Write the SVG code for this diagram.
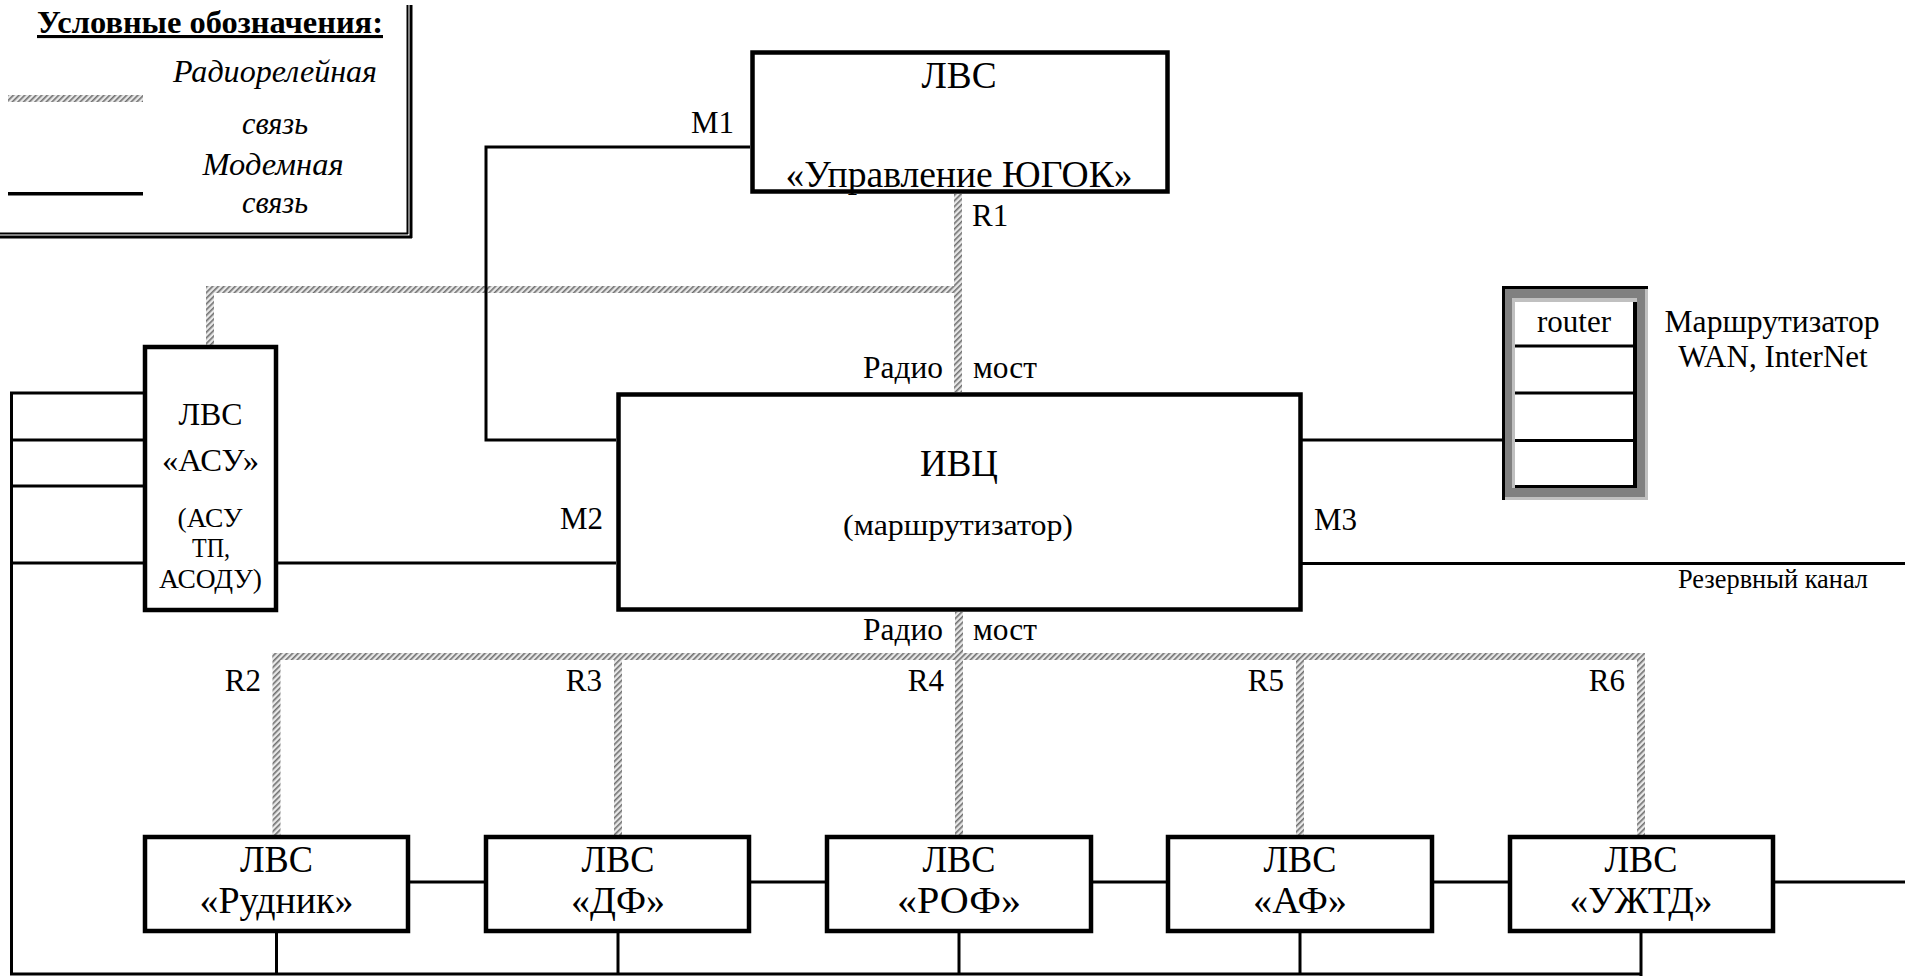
<svg xmlns="http://www.w3.org/2000/svg" width="1905" height="976" viewBox="0 0 1905 976">
<defs>
<pattern id="hatch" patternUnits="userSpaceOnUse" width="4" height="4" patternTransform="rotate(45)">
<rect width="4" height="4" fill="#e8e8e8"/>
<rect width="1.6" height="4" fill="#707070"/>
</pattern>
<style>
.t{font-family:"Liberation Serif","Times New Roman",serif;fill:#000}
.box{fill:#fff;stroke:#000;stroke-width:4.5}
.ln{stroke:#000;stroke-width:3;fill:none}
.rr{fill:url(#hatch)}
.c{text-anchor:middle}
.e{text-anchor:end}
.b37{font-size:37px}
.l31{font-size:31px}
</style>
</defs>
<rect width="1905" height="976" fill="#fff"/>

<g id="legend">
<text class="t c" x="210" y="33" font-size="31" font-weight="bold" text-decoration="underline" textLength="346" lengthAdjust="spacingAndGlyphs">Условные обозначения:</text>
<text class="t c" x="275" y="82" font-size="31" font-style="italic" textLength="204" lengthAdjust="spacingAndGlyphs">Радиорелейная</text>
<rect class="rr" x="8" y="95" width="135" height="7"/>
<text class="t c" x="275" y="134" font-size="31" font-style="italic" textLength="66" lengthAdjust="spacingAndGlyphs">связь</text>
<text class="t c" x="273" y="175" font-size="31" font-style="italic" textLength="141" lengthAdjust="spacingAndGlyphs">Модемная</text>
<rect x="8" y="192" width="135" height="3.5" fill="#000"/>
<text class="t c" x="275" y="213" font-size="31" font-style="italic" textLength="66" lengthAdjust="spacingAndGlyphs">связь</text>
<line x1="407.5" y1="5" x2="407.5" y2="234" stroke="#000" stroke-width="2"/>
<line x1="411" y1="5" x2="411" y2="238" stroke="#000" stroke-width="3"/>
<line x1="0" y1="233.5" x2="408" y2="233.5" stroke="#000" stroke-width="2"/>
<line x1="0" y1="237" x2="412" y2="237" stroke="#000" stroke-width="3"/>
</g>

<g id="connectors">
<rect class="rr" x="954" y="194" width="8" height="198"/>
<rect class="rr" x="206" y="286" width="756" height="7"/>
<rect class="rr" x="206" y="286" width="8" height="59"/>
<rect class="rr" x="955" y="612" width="8" height="225"/>
<rect class="rr" x="272.5" y="653" width="1372.5" height="7"/>
<rect class="rr" x="272.5" y="653" width="8" height="184"/>
<rect class="rr" x="614" y="653" width="8" height="184"/>
<rect class="rr" x="1296" y="653" width="8" height="184"/>
<rect class="rr" x="1637" y="653" width="8" height="184"/>
<polyline class="ln" points="750,147 486,147 486,440 616,440"/>
<line class="ln" x1="278" y1="563" x2="616" y2="563"/>
<line class="ln" x1="1300" y1="440" x2="1502" y2="440"/>
<line class="ln" x1="1300" y1="563.5" x2="1905" y2="563.5"/>
<polyline class="ln" points="143,393 11.5,393 11.5,974 1641,974"/>
<line class="ln" x1="11.5" y1="440" x2="143" y2="440"/>
<line class="ln" x1="11.5" y1="486" x2="143" y2="486"/>
<line class="ln" x1="11.5" y1="563" x2="143" y2="563"/>
<line class="ln" x1="410" y1="882" x2="484" y2="882"/>
<line class="ln" x1="751" y1="882" x2="825" y2="882"/>
<line class="ln" x1="1093" y1="882" x2="1167" y2="882"/>
<line class="ln" x1="1434" y1="882" x2="1508" y2="882"/>
<line class="ln" x1="1775" y1="882" x2="1905" y2="882"/>
<line class="ln" x1="276.5" y1="931" x2="276.5" y2="974"/>
<line class="ln" x1="618" y1="931" x2="618" y2="974"/>
<line class="ln" x1="959" y1="931" x2="959" y2="974"/>
<line class="ln" x1="1300" y1="931" x2="1300" y2="974"/>
<line class="ln" x1="1641" y1="931" x2="1641" y2="976"/>
</g>

<g id="labels">
<text class="t l31" x="691" y="133">M1</text>
<text class="t l31" x="972" y="226">R1</text>
<text class="t l31" x="863" y="378" textLength="80" lengthAdjust="spacingAndGlyphs">Радио</text>
<text class="t l31" x="973" y="378" textLength="64" lengthAdjust="spacingAndGlyphs">мост</text>
<text class="t l31" x="560" y="529">M2</text>
<text class="t l31" x="1314" y="530">M3</text>
<text class="t l31" x="863" y="640" textLength="80" lengthAdjust="spacingAndGlyphs">Радио</text>
<text class="t l31" x="973" y="640" textLength="64" lengthAdjust="spacingAndGlyphs">мост</text>
<text class="t l31 e" x="261" y="691">R2</text>
<text class="t l31 e" x="602" y="691">R3</text>
<text class="t l31 e" x="944" y="691">R4</text>
<text class="t l31 e" x="1284" y="691">R5</text>
<text class="t l31 e" x="1625" y="691">R6</text>
<text class="t" x="1678" y="588" font-size="27" textLength="190" lengthAdjust="spacingAndGlyphs">Резервный канал</text>
</g>

<g id="node-upravlenie">
<rect class="box" x="752.5" y="52.5" width="415" height="139"/>
<text class="t c b37" x="959" y="88" textLength="75" lengthAdjust="spacingAndGlyphs">ЛВС</text>
<text class="t c b37" x="959" y="187" textLength="347" lengthAdjust="spacingAndGlyphs">«Управление ЮГОК»</text>
</g>

<g id="node-ivc">
<rect class="box" x="618.5" y="394.5" width="682" height="215"/>
<text class="t c b37" x="959" y="476" textLength="78" lengthAdjust="spacingAndGlyphs">ИВЦ</text>
<text class="t c" x="958" y="535" font-size="30" textLength="230" lengthAdjust="spacingAndGlyphs">(маршрутизатор)</text>
</g>

<g id="node-asu">
<rect class="box" x="145" y="347" width="131" height="263"/>
<text class="t c" x="210.5" y="425" font-size="32" textLength="64" lengthAdjust="spacingAndGlyphs">ЛВС</text>
<text class="t c" x="210.5" y="471" font-size="32" textLength="97" lengthAdjust="spacingAndGlyphs">«АСУ»</text>
<text class="t c" x="210" y="527" font-size="27" textLength="65" lengthAdjust="spacingAndGlyphs">(АСУ</text>
<text class="t c" x="211" y="557" font-size="27" textLength="38" lengthAdjust="spacingAndGlyphs">ТП,</text>
<text class="t c" x="210.5" y="588" font-size="27" textLength="103" lengthAdjust="spacingAndGlyphs">АСОДУ)</text>
</g>

<g id="node-router">
<rect x="1505" y="289" width="140" height="208" fill="#808080"/>
<rect x="1645" y="289" width="3" height="211" fill="#c0c0c0"/>
<rect x="1505" y="497" width="143" height="3" fill="#c0c0c0"/>
<rect x="1502" y="286" width="146" height="3" fill="#000"/>
<rect x="1502" y="286" width="3" height="214" fill="#000"/>
<rect x="1512" y="298" width="125" height="190" fill="#c0c0c0"/>
<rect x="1515" y="302" width="122" height="186" fill="#000"/>
<rect x="1515" y="302" width="118" height="183" fill="#fff"/>
<line x1="1515" y1="346" x2="1633" y2="346" stroke="#000" stroke-width="3"/>
<line x1="1515" y1="393" x2="1633" y2="393" stroke="#000" stroke-width="3"/>
<line x1="1515" y1="440.5" x2="1633" y2="440.5" stroke="#000" stroke-width="3"/>
<text class="t c" x="1574" y="332" font-size="31">router</text>
<text class="t c" x="1772" y="332" font-size="31" textLength="215" lengthAdjust="spacingAndGlyphs">Маршрутизатор</text>
<text class="t c" x="1773" y="367" font-size="31">WAN, InterNet</text>
</g>

<g id="node-rudnik">
<rect class="box" x="145" y="837" width="263" height="94"/>
<text class="t c b37" x="276.5" y="872" textLength="73" lengthAdjust="spacingAndGlyphs">ЛВС</text>
<text class="t c b37" x="276.5" y="913" textLength="154" lengthAdjust="spacingAndGlyphs">«Рудник»</text>
</g>
<g id="node-df">
<rect class="box" x="486" y="837" width="263" height="94"/>
<text class="t c b37" x="618" y="872" textLength="73" lengthAdjust="spacingAndGlyphs">ЛВС</text>
<text class="t c b37" x="618" y="913" textLength="94" lengthAdjust="spacingAndGlyphs">«ДФ»</text>
</g>
<g id="node-rof">
<rect class="box" x="827" y="837" width="264" height="94"/>
<text class="t c b37" x="959" y="872" textLength="73" lengthAdjust="spacingAndGlyphs">ЛВС</text>
<text class="t c b37" x="959" y="913" textLength="124" lengthAdjust="spacingAndGlyphs">«РОФ»</text>
</g>
<g id="node-af">
<rect class="box" x="1168" y="837" width="264" height="94"/>
<text class="t c b37" x="1300" y="872" textLength="73" lengthAdjust="spacingAndGlyphs">ЛВС</text>
<text class="t c b37" x="1300" y="913" textLength="94" lengthAdjust="spacingAndGlyphs">«АФ»</text>
</g>
<g id="node-uzhtd">
<rect class="box" x="1510" y="837" width="263" height="94"/>
<text class="t c b37" x="1641" y="872" textLength="73" lengthAdjust="spacingAndGlyphs">ЛВС</text>
<text class="t c b37" x="1641" y="913" textLength="143" lengthAdjust="spacingAndGlyphs">«УЖТД»</text>
</g>
</svg>
